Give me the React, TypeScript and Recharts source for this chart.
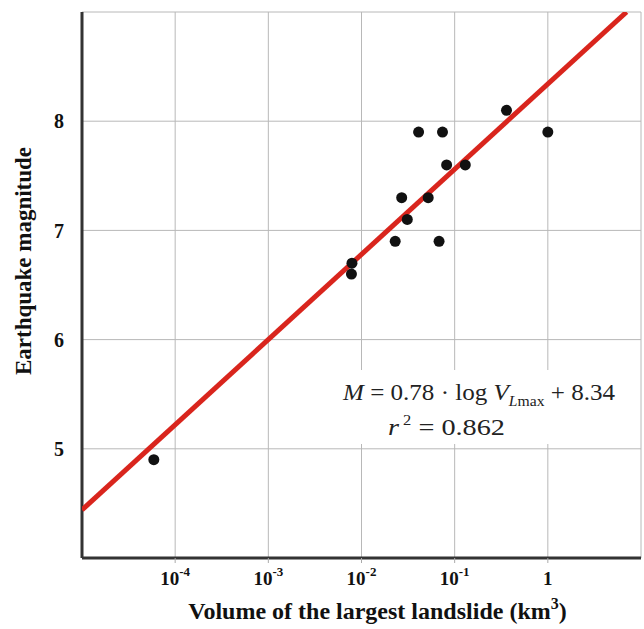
import React from "react";
import { ScatterChart, Scatter, XAxis, YAxis, CartesianGrid, Label } from "recharts";

// landslide volume (km3) vs earthquake magnitude
const volumes = [0.041, 0.074, 0.36, 1, 0.082, 0.13, 0.027, 0.052, 0.031, 0.023, 0.068, 0.0079, 0.0078, 0.000059];
const magnitudes = [7.9, 7.9, 8.1, 7.9, 7.6, 7.6, 7.3, 7.3, 7.1, 6.9, 6.9, 6.7, 6.6, 4.9];

// fitted line M = 0.78 log V + 8.34, end points
const fitVolumes = [0.00001, 7.0];
const fitMagnitudes = [4.44, 9.0];

const xTicks = [1e-4, 1e-3, 1e-2, 1e-1, 1];
const xTickBase = ["10", "10", "10", "10", "1"];
const xTickExp = ["-4", "-3", "-2", "-1", ""];
const yTicks = [5, 6, 7, 8];

const points = volumes.map((v, i) => ({ v, m: magnitudes[i] }));
const fit = fitVolumes.map((v, i) => ({ v, m: fitMagnitudes[i] }));

const SERIF = "'Liberation Serif', 'Times New Roman', serif";
const RED = "#d9251d";

const XTick = (props: any) => {
  const { x, y, payload } = props;
  const i = xTicks.indexOf(payload.value);
  return (
    <text x={x} y={y + 20} textAnchor="middle" fontFamily={SERIF} fontWeight="bold" fontSize={19} fill="#111">
      {xTickBase[i]}
      {xTickExp[i] && (
        <tspan dy={-9} fontSize={13}>
          {xTickExp[i]}
        </tspan>
      )}
    </text>
  );
};

const Dot = (props: any) => <circle cx={props.cx} cy={props.cy} r={5.5} fill="#111" />;

export default function App() {
  return (
    <div style={{ position: "absolute", left: 0, top: 0, width: 644, height: 629, background: "#fff" }}>
      <ScatterChart width={644} height={629} margin={{ top: 12, right: 3, bottom: 0, left: 0 }}>
        <CartesianGrid stroke="#b8b8b8" strokeWidth={1} />
        <XAxis
          type="number"
          dataKey="v"
          scale="log"
          domain={[1e-5, 10]}
          ticks={xTicks}
          allowDataOverflow
          height={71}
          axisLine={{ stroke: "#333", strokeWidth: 3 }}
          tickLine={{ stroke: "#aaa" }}
          tickSize={5}
          tick={<XTick />}
        >
          <Label
            content={(p: any) => {
              const vb = p.viewBox;
              return (
                <text
                  x={vb.x + vb.width / 2 + 16}
                  y={vb.y + 61}
                  textAnchor="middle"
                  fontFamily={SERIF}
                  fontWeight="bold"
                  fontSize={24}
                  fill="#111"
                >
                  Volume of the largest landslide (km
                  <tspan dy={-10} fontSize={16}>3</tspan>
                  <tspan dy={10}>)</tspan>
                </text>
              );
            }}
          />
        </XAxis>
        <YAxis
          type="number"
          dataKey="m"
          domain={[4, 9]}
          ticks={yTicks}
          allowDataOverflow
          width={82}
          axisLine={{ stroke: "#333", strokeWidth: 3 }}
          tickLine={false}
          tickMargin={12}
          tick={{ fontFamily: SERIF, fontWeight: "bold", fontSize: 20, fill: "#111" }}
        >
          <Label
            content={() => (
              <text
                x={31}
                y={261}
                transform="rotate(-90 31 261)"
                textAnchor="middle"
                fontFamily={SERIF}
                fontWeight="bold"
                fontSize={23}
                fill="#111"
              >
                Earthquake magnitude
              </text>
            )}
          />
        </YAxis>
        <Scatter
          data={fit}
          line={{ stroke: RED, strokeWidth: 5 }}
          shape={() => <g />}
          isAnimationActive={false}
        />
        <Scatter data={points} shape={<Dot />} isAnimationActive={false} />
      </ScatterChart>
      <svg width={644} height={629} style={{ position: "absolute", left: 0, top: 0, pointerEvents: "none" }}>
        <rect x={338} y={370} width={287} height={74} fill="#fff" />
        <text x={343} y={400} fontFamily={SERIF} fontSize={24} fill="#222" textLength={272} lengthAdjust="spacingAndGlyphs">
          <tspan fontStyle="italic">M</tspan> = 0.78 · log<tspan fontStyle="italic"> V</tspan>
          <tspan dy={6} fontSize={15} fontStyle="italic">L</tspan>
          <tspan fontSize={15}>max</tspan>
          <tspan dy={-6}> + 8.34</tspan>
        </text>
        <text x={388} y={435} fontFamily={SERIF} fontSize={24} fill="#222" textLength={117} lengthAdjust="spacingAndGlyphs">
          <tspan fontStyle="italic">r</tspan>
          <tspan dy={-10} fontSize={14}> 2</tspan>
          <tspan dy={10}> = 0.862</tspan>
        </text>
      </svg>
    </div>
  );
}
